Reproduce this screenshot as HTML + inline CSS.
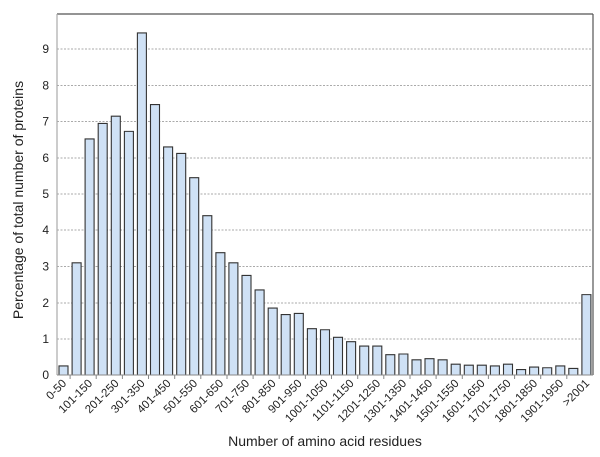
<!DOCTYPE html>
<html><head><meta charset="utf-8"><style>
html,body{margin:0;padding:0;background:#fff;}
svg{display:block;font-family:"Liberation Sans",Arial,sans-serif;}
</style></head><body>
<svg width="600" height="457" viewBox="0 0 600 457" xmlns="http://www.w3.org/2000/svg">
<g stroke="#aaa" stroke-width="1" stroke-dasharray="2,1.5">
<line x1="57" y1="339" x2="593" y2="339"/>
<line x1="57" y1="303" x2="593" y2="303"/>
<line x1="57" y1="266.5" x2="593" y2="266.5"/>
<line x1="57" y1="230" x2="593" y2="230"/>
<line x1="57" y1="194" x2="593" y2="194"/>
<line x1="57" y1="158" x2="593" y2="158"/>
<line x1="57" y1="121.5" x2="593" y2="121.5"/>
<line x1="57" y1="85.5" x2="593" y2="85.5"/>
<line x1="57" y1="49" x2="593" y2="49"/>
</g>
<line x1="57" y1="14" x2="593" y2="14" stroke="#555" stroke-width="1.2"/>
<line x1="593" y1="14" x2="593" y2="375" stroke="#555" stroke-width="1.2"/>
<line x1="57" y1="14" x2="57" y2="375" stroke="#aaa" stroke-width="1.2"/>
<g transform="translate(0,375) scale(1,-36.2)" fill="#cfe1f5" stroke="#333" stroke-width="1.1">
<rect vector-effect="non-scaling-stroke" x="59" y="0" width="9" height="0.25"/>
<rect vector-effect="non-scaling-stroke" x="72.1" y="0" width="9" height="3.1"/>
<rect vector-effect="non-scaling-stroke" x="85.1" y="0" width="9" height="6.52"/>
<rect vector-effect="non-scaling-stroke" x="98.2" y="0" width="9" height="6.95"/>
<rect vector-effect="non-scaling-stroke" x="111.3" y="0" width="9" height="7.15"/>
<rect vector-effect="non-scaling-stroke" x="124.4" y="0" width="9" height="6.73"/>
<rect vector-effect="non-scaling-stroke" x="137.4" y="0" width="9" height="9.45"/>
<rect vector-effect="non-scaling-stroke" x="150.5" y="0" width="9" height="7.47"/>
<rect vector-effect="non-scaling-stroke" x="163.6" y="0" width="9" height="6.3"/>
<rect vector-effect="non-scaling-stroke" x="176.7" y="0" width="9" height="6.12"/>
<rect vector-effect="non-scaling-stroke" x="189.7" y="0" width="9" height="5.45"/>
<rect vector-effect="non-scaling-stroke" x="202.8" y="0" width="9" height="4.4"/>
<rect vector-effect="non-scaling-stroke" x="215.9" y="0" width="9" height="3.38"/>
<rect vector-effect="non-scaling-stroke" x="228.9" y="0" width="9" height="3.1"/>
<rect vector-effect="non-scaling-stroke" x="242" y="0" width="9" height="2.75"/>
<rect vector-effect="non-scaling-stroke" x="255.1" y="0" width="9" height="2.35"/>
<rect vector-effect="non-scaling-stroke" x="268.2" y="0" width="9" height="1.85"/>
<rect vector-effect="non-scaling-stroke" x="281.2" y="0" width="9" height="1.67"/>
<rect vector-effect="non-scaling-stroke" x="294.3" y="0" width="9" height="1.7"/>
<rect vector-effect="non-scaling-stroke" x="307.4" y="0" width="9" height="1.28"/>
<rect vector-effect="non-scaling-stroke" x="320.5" y="0" width="9" height="1.25"/>
<rect vector-effect="non-scaling-stroke" x="333.5" y="0" width="9" height="1.04"/>
<rect vector-effect="non-scaling-stroke" x="346.6" y="0" width="9" height="0.92"/>
<rect vector-effect="non-scaling-stroke" x="359.7" y="0" width="9" height="0.8"/>
<rect vector-effect="non-scaling-stroke" x="372.8" y="0" width="9" height="0.8"/>
<rect vector-effect="non-scaling-stroke" x="385.8" y="0" width="9" height="0.56"/>
<rect vector-effect="non-scaling-stroke" x="398.9" y="0" width="9" height="0.58"/>
<rect vector-effect="non-scaling-stroke" x="412" y="0" width="9" height="0.42"/>
<rect vector-effect="non-scaling-stroke" x="425" y="0" width="9" height="0.45"/>
<rect vector-effect="non-scaling-stroke" x="438.1" y="0" width="9" height="0.42"/>
<rect vector-effect="non-scaling-stroke" x="451.2" y="0" width="9" height="0.3"/>
<rect vector-effect="non-scaling-stroke" x="464.3" y="0" width="9" height="0.27"/>
<rect vector-effect="non-scaling-stroke" x="477.3" y="0" width="9" height="0.27"/>
<rect vector-effect="non-scaling-stroke" x="490.4" y="0" width="9" height="0.25"/>
<rect vector-effect="non-scaling-stroke" x="503.5" y="0" width="9" height="0.3"/>
<rect vector-effect="non-scaling-stroke" x="516.6" y="0" width="9" height="0.15"/>
<rect vector-effect="non-scaling-stroke" x="529.6" y="0" width="9" height="0.22"/>
<rect vector-effect="non-scaling-stroke" x="542.7" y="0" width="9" height="0.2"/>
<rect vector-effect="non-scaling-stroke" x="555.8" y="0" width="9" height="0.25"/>
<rect vector-effect="non-scaling-stroke" x="568.8" y="0" width="9" height="0.18"/>
<rect vector-effect="non-scaling-stroke" x="581.9" y="0" width="9" height="2.22"/>
</g>
<line x1="57" y1="375" x2="593" y2="375" stroke="#888" stroke-width="1"/>
<g stroke="#888" stroke-width="1">
<line x1="70.1" y1="375" x2="70.1" y2="379"/><line x1="96.2" y1="375" x2="96.2" y2="379"/>
<line x1="122.4" y1="375" x2="122.4" y2="379"/><line x1="148.5" y1="375" x2="148.5" y2="379"/>
<line x1="174.7" y1="375" x2="174.7" y2="379"/><line x1="200.8" y1="375" x2="200.8" y2="379"/>
<line x1="227" y1="375" x2="227" y2="379"/><line x1="253.1" y1="375" x2="253.1" y2="379"/>
<line x1="279.2" y1="375" x2="279.2" y2="379"/><line x1="305.4" y1="375" x2="305.4" y2="379"/>
<line x1="331.5" y1="375" x2="331.5" y2="379"/><line x1="357.7" y1="375" x2="357.7" y2="379"/>
<line x1="383.8" y1="375" x2="383.8" y2="379"/><line x1="410" y1="375" x2="410" y2="379"/>
<line x1="436.1" y1="375" x2="436.1" y2="379"/><line x1="462.3" y1="375" x2="462.3" y2="379"/>
<line x1="488.4" y1="375" x2="488.4" y2="379"/><line x1="514.6" y1="375" x2="514.6" y2="379"/>
<line x1="540.7" y1="375" x2="540.7" y2="379"/><line x1="566.8" y1="375" x2="566.8" y2="379"/>
</g>
<g font-size="12" fill="#222" text-anchor="end">
<text x="49" y="379">0</text><text x="49" y="343">1</text><text x="49" y="307">2</text>
<text x="49" y="270.5">3</text><text x="49" y="234">4</text><text x="49" y="198">5</text>
<text x="49" y="162">6</text><text x="49" y="125.5">7</text><text x="49" y="89.5">8</text>
<text x="49" y="53">9</text>
</g>
<g font-size="11.5" fill="#222" text-anchor="end">
<text transform="translate(67,384) rotate(-45)">0-50</text>
<text transform="translate(93,384) rotate(-45)">101-150</text>
<text transform="translate(119.5,384) rotate(-45)">201-250</text>
<text transform="translate(145.5,384) rotate(-45)">301-350</text>
<text transform="translate(171.5,384) rotate(-45)">401-450</text>
<text transform="translate(198,384) rotate(-45)">501-550</text>
<text transform="translate(224,384) rotate(-45)">601-650</text>
<text transform="translate(250,384) rotate(-45)">701-750</text>
<text transform="translate(276.5,384) rotate(-45)">801-850</text>
<text transform="translate(302.5,384) rotate(-45)">901-950</text>
<text transform="translate(328.5,384) rotate(-45)">1001-1050</text>
<text transform="translate(354.5,384) rotate(-45)">1101-1150</text>
<text transform="translate(381,384) rotate(-45)">1201-1250</text>
<text transform="translate(407,384) rotate(-45)">1301-1350</text>
<text transform="translate(433,384) rotate(-45)">1401-1450</text>
<text transform="translate(459.5,384) rotate(-45)">1501-1550</text>
<text transform="translate(485.5,384) rotate(-45)">1601-1650</text>
<text transform="translate(511.5,384) rotate(-45)">1701-1750</text>
<text transform="translate(538,384) rotate(-45)">1801-1850</text>
<text transform="translate(564,384) rotate(-45)">1901-1950</text>
<text transform="translate(590,384) rotate(-45)">&gt;2001</text>
</g>
<text x="325" y="446" font-size="14" text-anchor="middle" fill="#222">Number of amino acid residues</text>
<text transform="translate(23,200) rotate(-90)" font-size="14" text-anchor="middle" fill="#222">Percentage of total number of proteins</text>
</svg>
</body></html>
